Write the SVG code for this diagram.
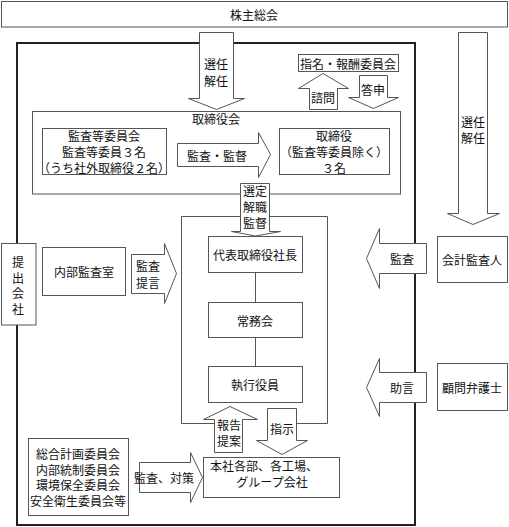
<svg xmlns="http://www.w3.org/2000/svg" width="509" height="527" viewBox="0 0 509 527">
<style>
text{font-family:"Noto Sans CJK JP","Noto Sans CJK SC",sans-serif;font-size:12px;fill:#111;text-anchor:middle;dominant-baseline:central}
.box{fill:#fff;stroke:#555;stroke-width:1}
.frame{fill:none;stroke:#222;stroke-width:2}
.arr{fill:#fff;stroke:#555;stroke-width:1;stroke-linejoin:miter}
.ln{stroke:#555;stroke-width:1;fill:none}
</style>
<rect width="509" height="527" fill="#fff"/>
<g id="outer-frame"><rect class="frame" x="17" y="43" width="398" height="482"/></g>
<g id="shareholders"><rect class="box" x="1.5" y="1.5" width="506" height="25.5"/><text x="254" y="14">株主総会</text></g>
<g id="nomination"><rect class="box" x="298.5" y="54.5" width="100" height="17"/><text x="348" y="63">指名・報酬委員会</text></g>
<g id="board"><rect class="box" x="32.5" y="111.5" width="368" height="82.5"/><text x="216" y="118">取締役会</text></g>
<g id="audit-committee"><rect class="box" x="42.5" y="128.5" width="124" height="46"/><text x="104" y="135">監査等委員会<tspan x="104" dy="16">監査等委員３名</tspan><tspan x="104" dy="16">（うち社外取締役２名）</tspan></text></g>
<g id="directors"><rect class="box" x="279.5" y="128.5" width="110" height="46"/><text x="334" y="135">取締役<tspan x="334" dy="16">（監査等委員除く）</tspan><tspan x="334" dy="16">３名</tspan></text></g>
<g id="exec-frame"><path class="ln" d="M214,423.5 H181.5 V216.5 H327.5 V423.5 H296"/></g>
<g id="submitter"><rect class="box" x="1.5" y="243.5" width="34.5" height="81.5"/><text x="18" y="261">提<tspan x="18" dy="15.5">出</tspan><tspan x="18" dy="15.5">会</tspan><tspan x="18" dy="15.5">社</tspan></text></g>
<g id="internal-audit"><rect class="box" x="42.5" y="247.5" width="83" height="48"/><text x="84" y="271">内部監査室</text></g>
<g id="president"><rect class="box" x="208.5" y="236.5" width="94" height="36"/><text x="255" y="254">代表取締役社長</text></g>
<g id="managing"><rect class="box" x="208.5" y="302.5" width="94" height="35"/><text x="255" y="320">常務会</text></g>
<g id="officers"><rect class="box" x="208.5" y="366.5" width="94" height="36"/><text x="255" y="384">執行役員</text></g>
<g id="auditor"><rect class="box" x="437.5" y="236.5" width="70" height="46"/><text x="472" y="259">会計監査人</text></g>
<g id="lawyer"><rect class="box" x="437.5" y="363.5" width="70" height="47"/><text x="472" y="387">顧問弁護士</text></g>
<g id="committees"><rect class="box" x="28.5" y="438.5" width="100" height="77"/><text x="78" y="453">総合計画委員会<tspan x="78" dy="15.5">内部統制委員会</tspan><tspan x="78" dy="15.5">環境保全委員会</tspan><tspan x="78" dy="15.5">安全衛生委員会等</tspan></text></g>
<g id="divisions"><rect class="box" x="203.5" y="457.5" width="136" height="40"/><text x="264" y="465">本社各部、各工場、<tspan x="272" dy="16">グループ会社</tspan></text></g>
<g id="connectors">
<line class="ln" x1="255.5" y1="272.5" x2="255.5" y2="302.5"/>
<line class="ln" x1="255.5" y1="337.5" x2="255.5" y2="366.5"/>
<polygon class="arr" points="199.5,32.5 233.5,32.5 233.5,98.5 244.5,98.5 216.5,109.5 188.5,98.5 199.5,98.5"/>
<text x="216" y="63">選任<tspan x="216" dy="17">解任</tspan></text>
<polygon class="arr" points="458.5,32.5 487.5,32.5 487.5,213.5 499.5,213.5 473,224.5 447.5,213.5 458.5,213.5"/>
<text x="473" y="121">選任<tspan x="473" dy="16">解任</tspan></text>
<polygon class="arr" points="323,73.5 348.5,88.5 337.5,88.5 337.5,109.5 309.5,109.5 309.5,88.5 298.5,88.5"/>
<text x="323" y="97">諮問</text>
<polygon class="arr" points="359.5,75.5 387.5,75.5 387.5,97.5 398.5,97.5 373.5,108.5 348.5,97.5 359.5,97.5"/>
<text x="373" y="89">答申</text>
<polygon class="arr" points="177.5,143.5 258.5,143.5 258.5,132.5 270.5,154.5 258.5,177.5 258.5,166.5 177.5,166.5"/>
<text x="217" y="155">監査・監督</text>
<polygon class="arr" points="240.5,183.5 269.5,183.5 269.5,231.5 280.5,231.5 255.5,236 231.5,231.5 240.5,231.5"/>
<text x="255" y="190.5">選定<tspan x="255" dy="15.5">解職</tspan><tspan x="255" dy="15.5">監督</tspan></text>
<polygon class="arr" points="131.5,254.5 164.5,254.5 164.5,243.5 176.5,273.5 164.5,303.5 164.5,293.5 131.5,293.5"/>
<text x="148" y="265.5">監査<tspan x="148" dy="16">提言</tspan></text>
<polygon class="arr" points="426.5,243.5 379.5,243.5 379.5,228.5 366.5,258.5 379.5,288.5 379.5,273.5 426.5,273.5"/>
<text x="402" y="258">監査</text>
<polygon class="arr" points="426.5,372.5 379.5,372.5 379.5,358.5 366.5,387.5 379.5,416.5 379.5,402.5 426.5,402.5"/>
<text x="402" y="387">助言</text>
<polygon class="arr" points="230,406.5 257.5,419.5 242.5,419.5 242.5,452.5 214.5,452.5 214.5,419.5 203.5,419.5"/>
<text x="229" y="424">報告<tspan x="229" dy="15.5">提案</tspan></text>
<polygon class="arr" points="267.5,408.5 296.5,408.5 296.5,440.5 307.5,440.5 282,454.5 256.5,440.5 267.5,440.5"/>
<text x="282" y="428">指示</text>
<polygon class="arr" points="139.5,462.5 190.5,462.5 190.5,452.5 202.5,477.5 190.5,502.5 190.5,492.5 139.5,492.5"/>
<text x="164" y="477">監査、対策</text>
</g>
</svg>
